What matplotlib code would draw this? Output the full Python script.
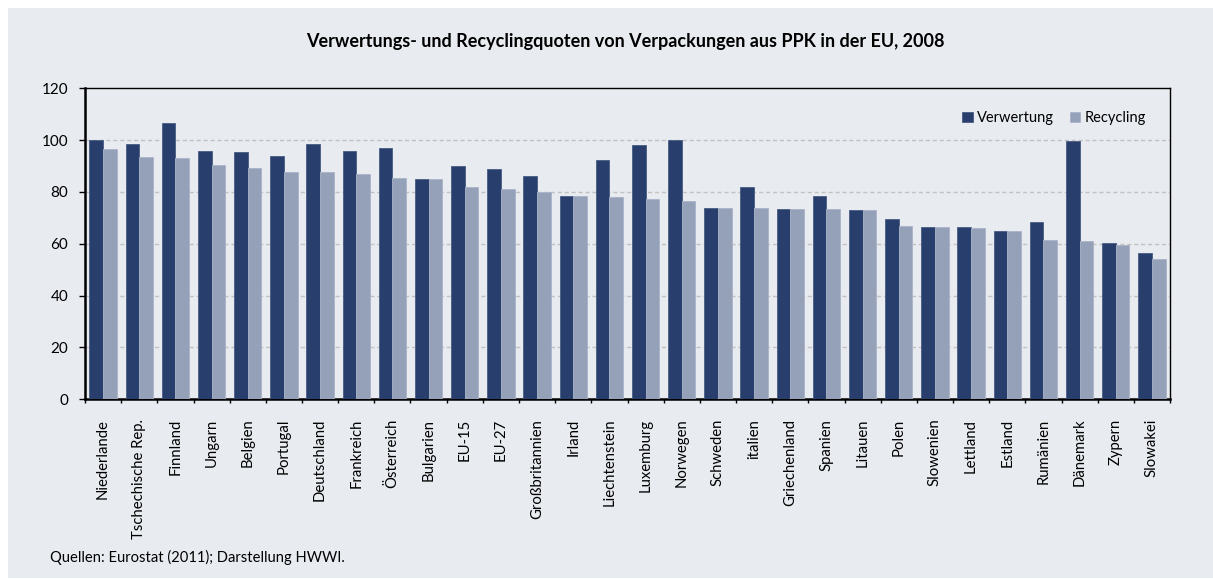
import matplotlib.pyplot as plt
import numpy as np
from matplotlib.patches import Rectangle

plt.rcParams['font.family'] = ['Lato', 'DejaVu Sans']

countries = ['Niederlande', 'Tschechische Rep.', 'Finnland', 'Ungarn', 'Belgien',
             'Portugal', 'Deutschland', 'Frankreich', 'Österreich', 'Bulgarien',
             'EU-15', 'EU-27', 'Großbritannien', 'Irland', 'Liechtenstein',
             'Luxemburg', 'Norwegen', 'Schweden', 'italien', 'Griechenland',
             'Spanien', 'Litauen', 'Polen', 'Slowenien', 'Lettland',
             'Estland', 'Rumänien', 'Dänemark', 'Zypern', 'Slowakei']
verwertung = [100.0, 98.5, 106.5, 95.9, 95.5, 94.0, 98.5, 95.9, 97.1, 84.9,
              90.1, 88.7, 86.3, 78.4, 92.2, 98.0, 100.0, 73.9, 81.8, 73.4,
              78.4, 72.9, 69.4, 66.6, 66.6, 65.0, 68.5, 99.5, 60.2, 56.3]
recycling = [96.5, 93.6, 93.1, 90.5, 89.1, 87.7, 87.7, 86.8, 85.3, 84.9,
             81.8, 81.0, 80.0, 78.4, 77.9, 77.4, 76.4, 73.9, 73.9, 73.4,
             73.4, 72.9, 67.0, 66.6, 66.1, 65.0, 61.6, 61.1, 59.6, 54.0]
title = 'Verwertungs- und Recyclingquoten von Verpackungen aus PPK in der EU, 2008'
source = 'Quellen: Eurostat (2011); Darstellung HWWI.'

W, H = 1213, 579
bg = '#e8ebf0'
dark = '#283f6e'
light = '#95a1b8'

fig = plt.figure(figsize=(W / 100, H / 100), dpi=100, facecolor='white')
fig.patches.append(Rectangle((8 / W, 1 / H), (W - 8) / W, 570 / H,
                             transform=fig.transFigure, facecolor=bg,
                             edgecolor='none', zorder=-10))

ax = fig.add_axes([85 / W, (H - 399.3) / H, 1085 / W, 311 / H])
ax.set_facecolor(bg)

x = np.arange(len(countries))
bw = 0.38
ax.bar(x - bw / 2, verwertung, bw, color=dark, edgecolor='#4a5b85', linewidth=0.6,
       label='Verwertung', zorder=3)
ax.bar(x + bw / 2, recycling, bw, color=light, edgecolor='#aab4c7', linewidth=0.6,
       label='Recycling', zorder=3)

ax.set_xlim(-0.5, len(countries) - 0.5)
ax.set_ylim(0, 120)
ax.set_yticks(np.arange(0, 121, 20))
ax.set_xticks(x)
ax.set_xticklabels(countries, rotation=90, fontsize=10.7)
ax.set_xticks(np.arange(-0.5, len(countries), 1), minor=True)
ax.tick_params(axis='x', which='major', length=0, pad=14)
ax.tick_params(axis='x', which='minor', length=3, width=1, direction='out')
ax.tick_params(axis='y', length=4, width=1, labelsize=11, pad=8)

for yv in range(20, 120, 20):
    ax.axhline(yv, color='#c2c2c2', linestyle=(0, (3, 2)), linewidth=1, zorder=1)

for s in ['left', 'bottom']:
    ax.spines[s].set_linewidth(1.8)
for s in ['top', 'right']:
    ax.spines[s].set_linewidth(1.0)

ax.legend(loc='upper right', bbox_to_anchor=(0.99, 0.97), frameon=False,
          fontsize=10.5, handlelength=0.7, handleheight=0.7, handletextpad=0.3,
          ncol=2, columnspacing=1.1)

fig.text(625 / W, 1 - 42 / H, title, ha='center', va='center',
         fontsize=13, fontweight='bold')
fig.text(50 / W, 1 - 557 / H, source, ha='left', va='center', fontsize=10.6)

fig.savefig('out.png', dpi=100, facecolor='white')
